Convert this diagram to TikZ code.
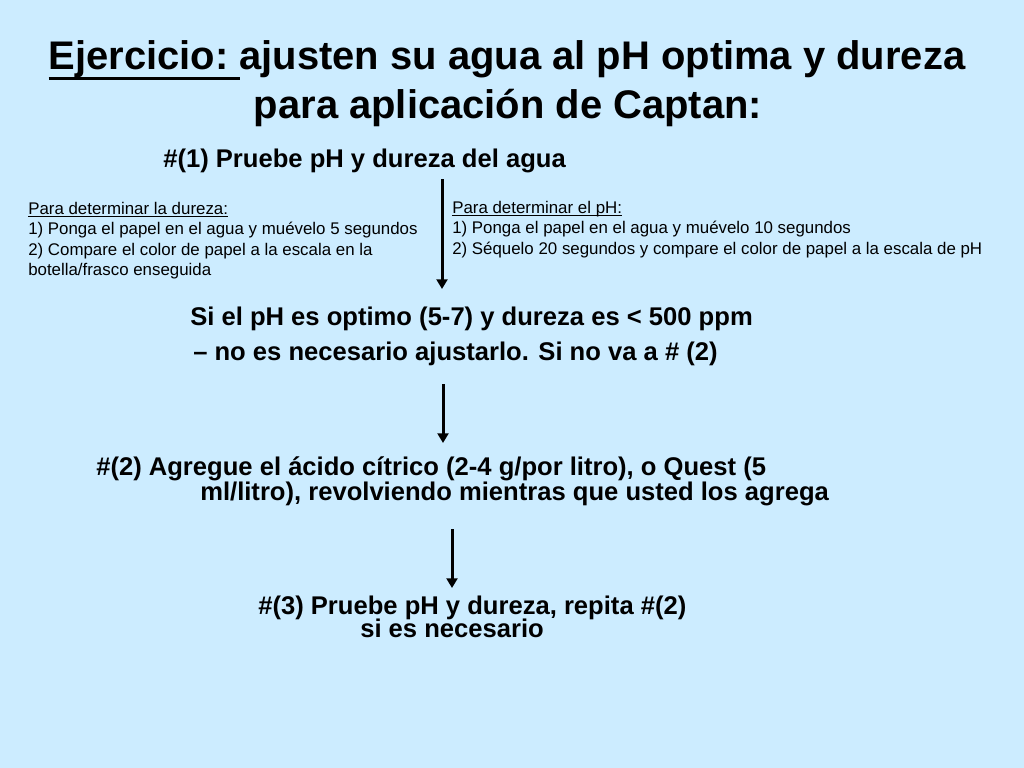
\documentclass[tikz,border=0pt]{standalone}
\usepackage{fontspec}
\setmainfont{Liberation Sans}
\usetikzlibrary{arrows.meta, positioning}
\definecolor{slideblue}{RGB}{204,236,255}
% underline with chosen offset and thickness
\newcommand{\ulbar}[3]{\leavevmode\setbox0=\hbox{#3}\rlap{\rule[#1]{\wd0}{#2}}\box0}

\begin{document}
\begin{tikzpicture}[
    x=0.025cm, y=-0.025cm,
    title/.style={anchor=base, inner sep=0pt, font=\fontsize{28.4}{32}\bfseries},
    stepline/.style={anchor=base west, inner sep=0pt, font=\fontsize{18.2}{21}\bfseries},
    note/.style={anchor=base west, inner sep=0pt, font=\fontsize{12}{14}\selectfont},
    flow/.style={line width=0.075cm, -{Triangle[length=0.24cm, width=0.27cm]}}
]

   % Slide background
   \fill[slideblue] (0,0) rectangle (1024,768);

   % Title
   \node[title] (t1) at (507,70) {\ulbar{-7.4pt}{2.1pt}{Ejercicio:\ }ajusten su agua al pH optima y dureza};
   \node[title] (t2) at (508,119) {para aplicación de Captan:};

   % Step 1 and its two notes
   \node[stepline] (p1) at (163,168) {\#(1) Pruebe pH y dureza del agua};

   \node[note] (d1) at (28,214) {\ulbar{-2pt}{0.7pt}{Para determinar la dureza:}};
   \node[note] (d2) at (28,234.5) {1) Ponga el papel en el agua y muévelo 5 segundos};
   \node[note] (d3) at (28,255) {2) Compare el color de papel a la escala en la};
   \node[note] (d4) at (28,275.5) {botella/frasco enseguida};

   \node[note] (h1) at (452,213) {\ulbar{-2pt}{0.7pt}{Para determinar el pH:}};
   \node[note] (h2) at (452,233.5) {1) Ponga el papel en el agua y muévelo 10 segundos};
   \node[note] (h3) at (452,254) {2) Séquelo 20 segundos y compare el color de papel a la escala de pH};

   % Result of the test
   \node[stepline] (s1) at (190,325) {Si el pH es optimo (5-7) y dureza es < 500 ppm};
   \node[stepline] (s2) at (193,360) {– no es necesario ajustarlo. Si no va a \# (2)};

   % Step 2
   \node[stepline] (g1) at (96,475) {\#(2) Agregue el ácido cítrico (2-4 g/por litro), o Quest (5};
   \node[stepline] (g2) at (200,500) {ml/litro), revolviendo mientras que usted los agrega};

   % Step 3
   \node[stepline] (r1) at (258,614) {\#(3) Pruebe pH y dureza, repita \#(2)};
   \node[stepline] (r2) at (360,637) {si es necesario};

   % Arrow ends
   \coordinate (a1s) at (442,179);
   \coordinate (a1e) at (442,289);
   \coordinate (a2s) at (443,384);
   \coordinate (a2e) at (443,443);
   \coordinate (a3s) at (452,529);
   \coordinate (a3e) at (452,588);

   % Arrows
   \draw[flow] (a1s) -- (a1e);
   \draw[flow] (a2s) -- (a2e);
   \draw[flow] (a3s) -- (a3e);
\end{tikzpicture}
\end{document}
